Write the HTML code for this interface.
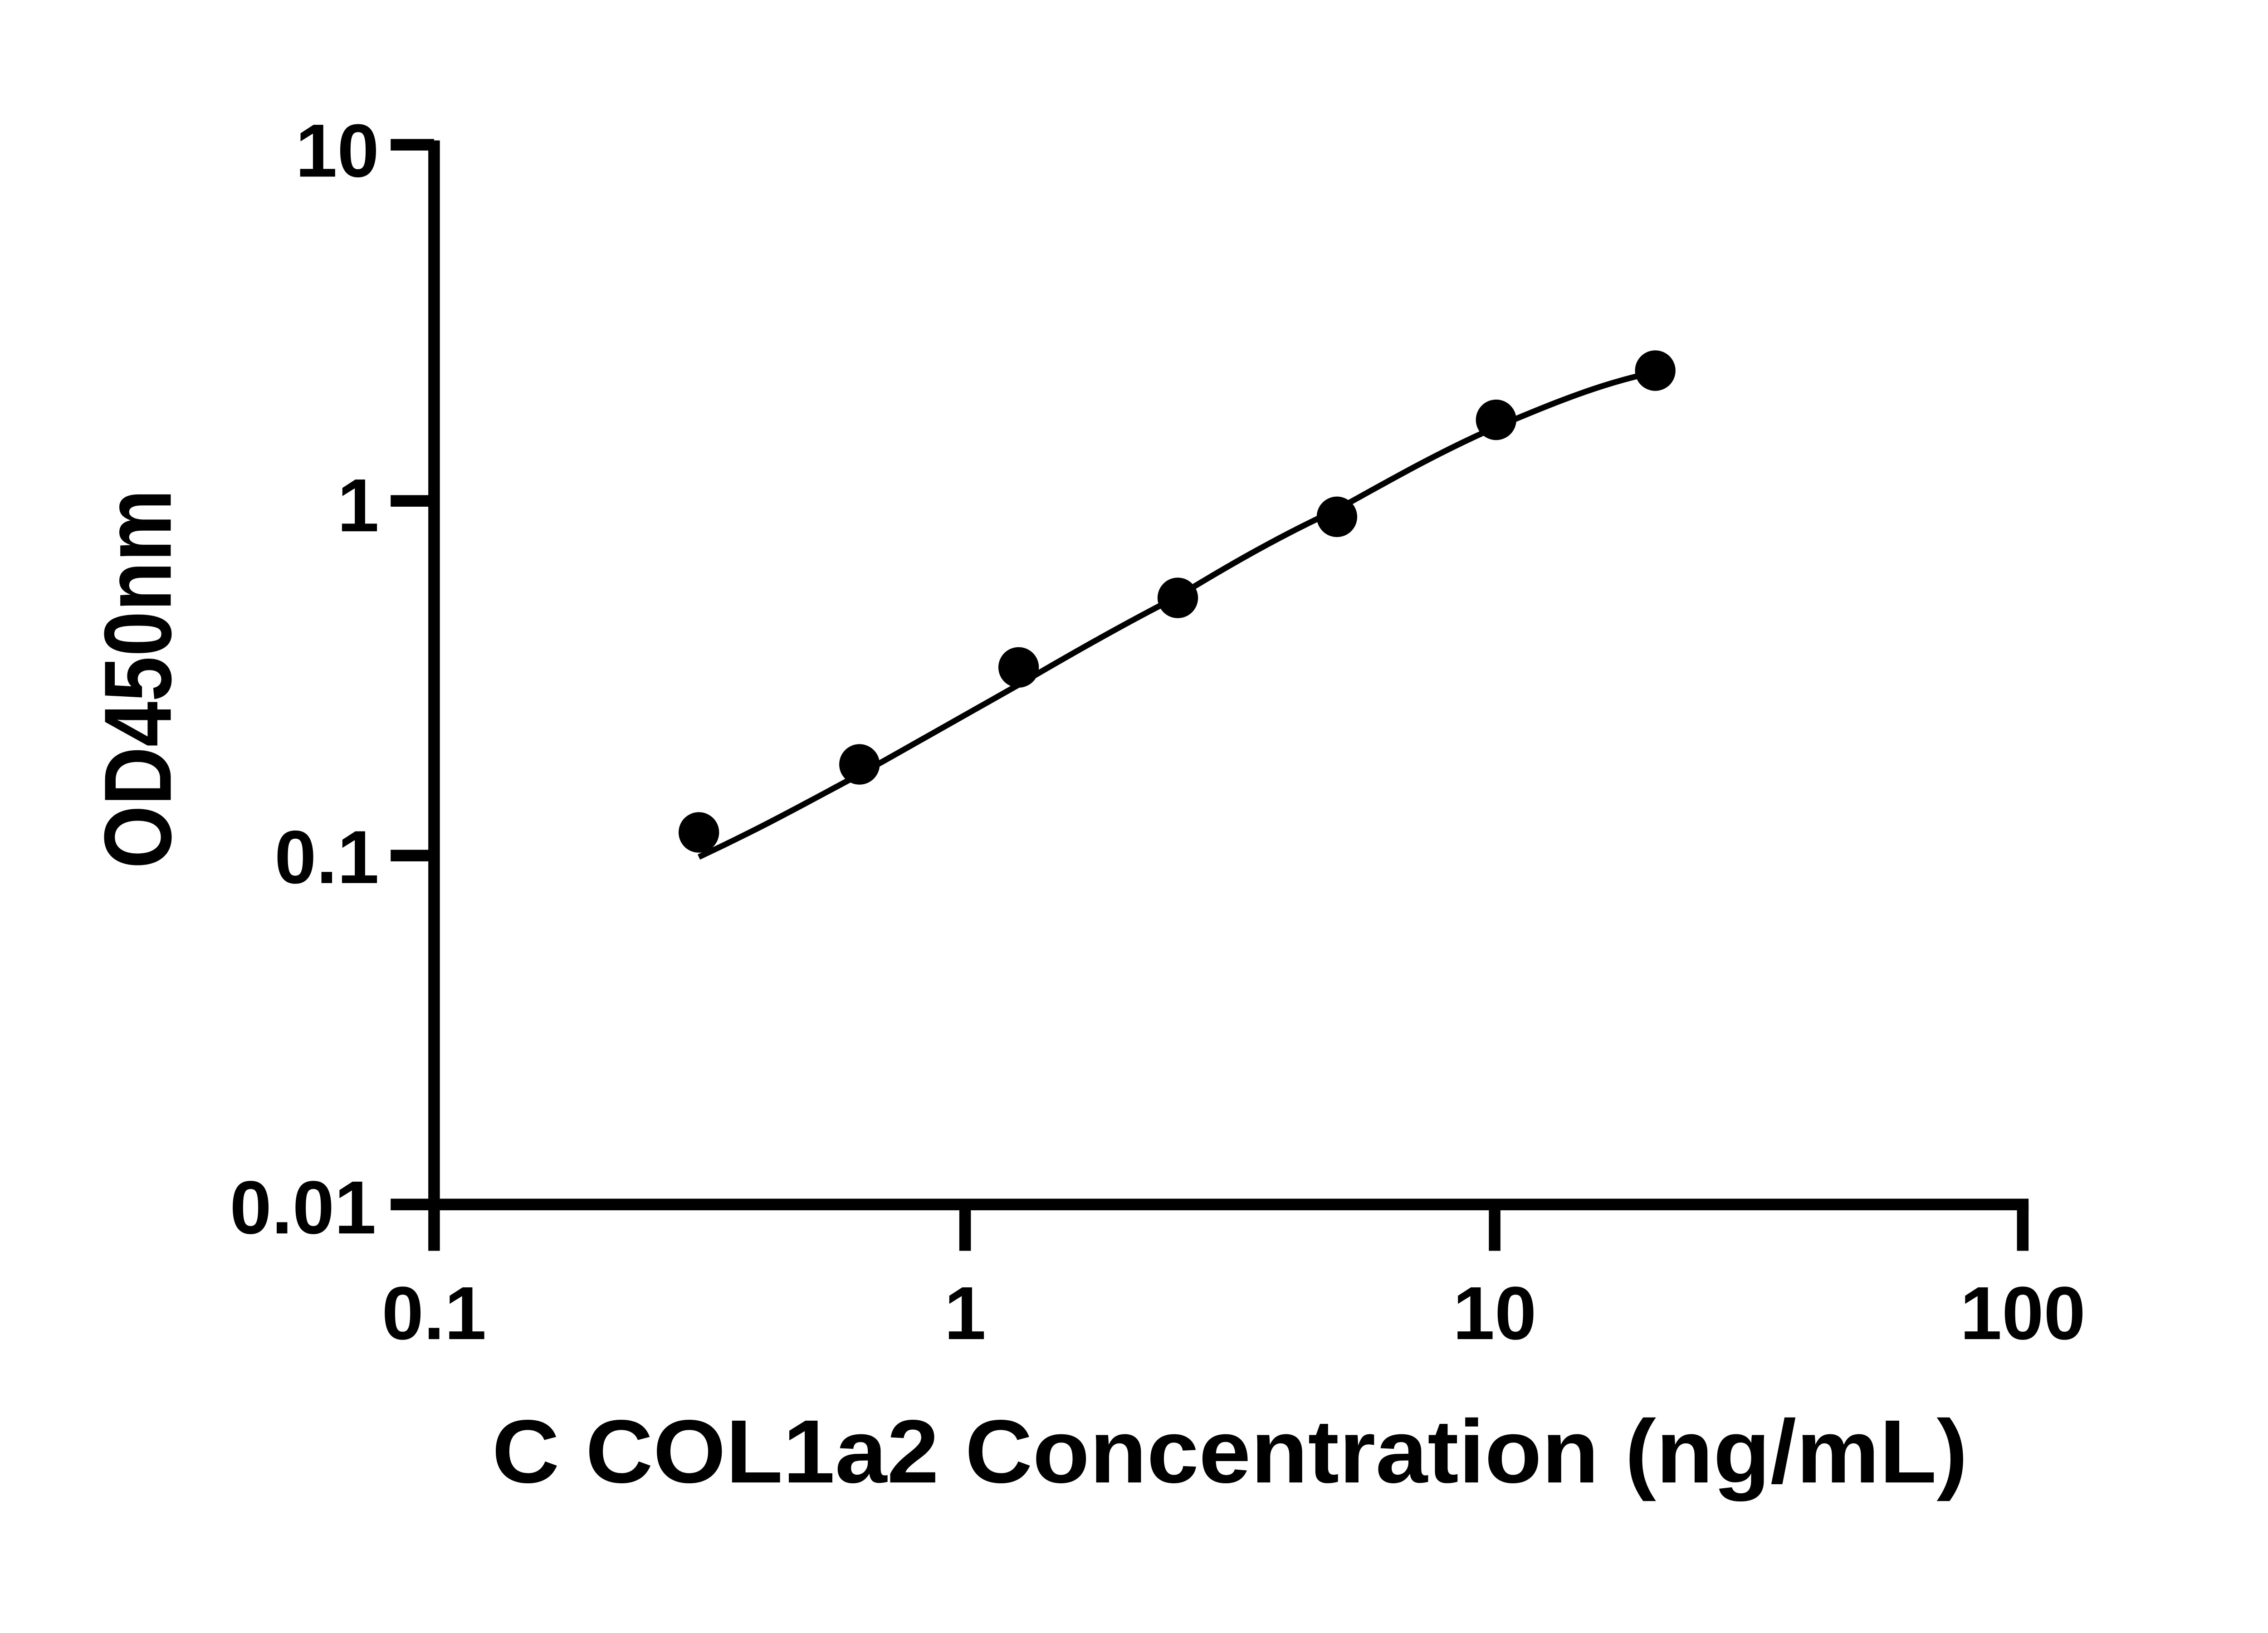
<!DOCTYPE html>
<html><head><meta charset="utf-8"><style>html,body{margin:0;padding:0;background:#fff}svg{display:block}</style></head>
<body>
<svg width="5142" height="3600" viewBox="0 0 1612 1128" preserveAspectRatio="none" xmlns="http://www.w3.org/2000/svg">
<rect width="1612" height="1128" fill="#fff"/>
<g stroke="#000" stroke-width="8" fill="none" stroke-linecap="butt">
<line x1="300" y1="97" x2="300" y2="864"/>
<line x1="270" y1="832" x2="1402" y2="832"/>
<line x1="270" y1="100" x2="300" y2="100"/>
<line x1="270" y1="346" x2="300" y2="346"/>
<line x1="270" y1="591" x2="300" y2="591"/>
<line x1="667" y1="832" x2="667" y2="864"/>
<line x1="1033" y1="832" x2="1033" y2="864"/>
<line x1="1398" y1="832" x2="1398" y2="864"/>
</g>
<path d="M483,592 C530,570 560,553 594,535 C630,515 665,495 704,473 C740,452 775,432 814,412 C850,390 885,370 924,352 C960,332 995,312 1034,295 C1070,280 1105,265 1144,257" stroke="#000" stroke-width="4" fill="none"/>
<g fill="#000">
<circle cx="483" cy="575" r="14"/>
<circle cx="594" cy="528" r="14"/>
<circle cx="704" cy="461" r="14"/>
<circle cx="814" cy="413" r="14"/>
<circle cx="924" cy="357" r="14"/>
<circle cx="1034" cy="290" r="14"/>
<circle cx="1144" cy="256" r="14"/>
</g>
<g font-family="Liberation Sans, Arial, sans-serif" font-weight="bold" font-size="52" fill="#000">
<text x="262" y="122" text-anchor="end">10</text>
<text x="262" y="367" text-anchor="end">1</text>
<text x="262" y="610" text-anchor="end">0.1</text>
<text x="260" y="852" text-anchor="end">0.01</text>
<text x="300" y="925" text-anchor="middle">0.1</text>
<text x="667" y="925" text-anchor="middle">1</text>
<text x="1033" y="925" text-anchor="middle">10</text>
<text x="1398" y="925" text-anchor="middle">100</text>
<text x="340" y="1024" font-size="62" textLength="1020" lengthAdjust="spacingAndGlyphs">C COL1a2 Concentration (ng/mL)</text>
<text transform="translate(118,600) rotate(-90)" font-size="66" textLength="262" lengthAdjust="spacingAndGlyphs">OD450nm</text>
</g>
</svg>
</body></html>
